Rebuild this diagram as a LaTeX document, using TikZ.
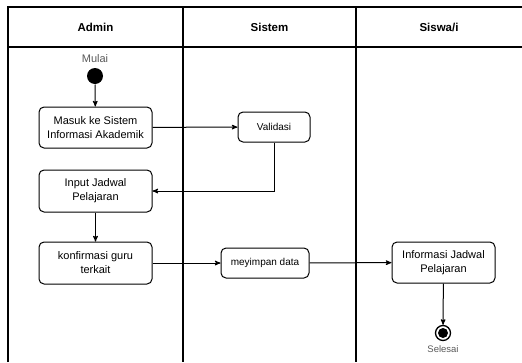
\documentclass[tikz,border=0pt]{standalone}
\usepackage{fontspec}
\setmainfont{Liberation Sans}
\usetikzlibrary{arrows,shapes}

\begin{document}
\begin{tikzpicture}[x=1pt,y=-1pt,->,>=stealth',line width=1pt,
    act/.style={shape=rectangle,rounded corners=5pt,draw=black,align=center,inner sep=0pt,font=\fontsize{11}{14}\selectfont},
    lane/.style={font=\bfseries\fontsize{11.5}{14}\selectfont}]
            \useasboundingbox (0,0) rectangle (522,362);
            % swimlanes
            \draw[-,line width=1.1pt] (8,362) -- (8,7) -- (522,7)
            (8,47) -- (522,47)
            (183,7) -- (183,362)
            (356,7) -- (356,362);
            \node[lane](Admin)at(95.5, 27){Admin};
            \node[lane](Sistem)at(269.5, 27){Sistem};
            \node[lane](Siswa)at(439, 27){Siswa/i};
            % activities
            \node[text=black!65,font=\fontsize{11}{13}\selectfont](Mulai)at(95, 59){Mulai};
            \node[shape=circle,fill=black,minimum size=16pt,inner sep=0pt](Start)at(95, 76){};
            \node[act,minimum width=113pt,minimum height=41pt](Masuk)at(95.5, 127.5){Masuk ke Sistem\\Informasi Akademik};
            \node[act,minimum width=72pt,minimum height=30pt,font=\fontsize{10}{12}\selectfont](Validasi)at(274, 127){Validasi};
            \node[act,minimum width=113pt,minimum height=42pt](Input)at(95.5, 191){Input Jadwal\\Pelajaran};
            \node[act,minimum width=113pt,minimum height=42pt](Konfirmasi)at(95.5, 263){konfirmasi guru\\terkait};
            \node[act,minimum width=88pt,minimum height=30pt,font=\fontsize{10}{12}\selectfont](Simpan)at(265, 263){meyimpan data};
            \node[act,minimum width=103pt,minimum height=41pt](Informasi)at(443.5, 262.5){Informasi Jadwal\\Pelajaran};
            \node[shape=circle,draw=black,line width=1.3pt,minimum size=15pt,inner sep=0pt](End)at(443, 333){};
            \node[shape=circle,fill=black,minimum size=10pt,inner sep=0pt]at(End){};
            \node[text=black!65,font=\fontsize{9.5}{11}\selectfont](Selesai)at(443, 349){Selesai};
            \path[](Start) edge (Masuk)
            (Masuk) edge (Validasi)
            (Input) edge (Konfirmasi)
            (Konfirmasi) edge (Simpan)
            (Simpan) edge (Informasi)
            (Informasi) edge (End);
            \draw (Validasi) |- (Input);
        \end{tikzpicture}
\end{document}
